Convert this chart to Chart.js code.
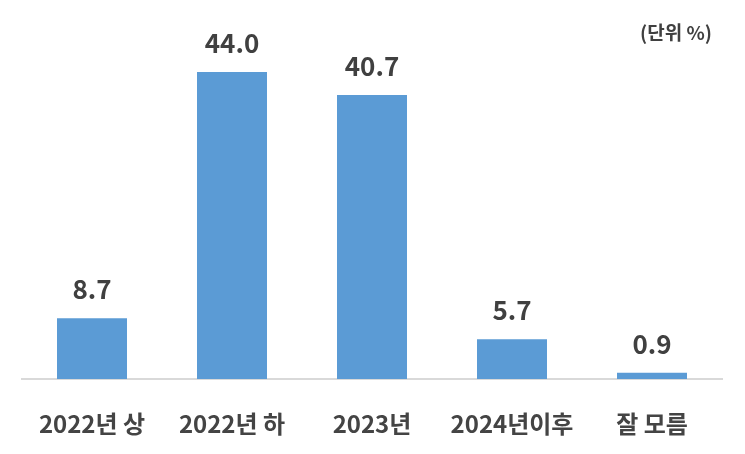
<!DOCTYPE html>
<html>
<head>
<meta charset="utf-8">
<script src="https://cdn.jsdelivr.net/npm/chart.js@4/dist/chart.umd.min.js"></script>
<style>
    body { margin: 0; background: #fff; }
    #wrap { width: 745px; height: 454px; position: relative; }
</style>
</head>
<body>
<div id="wrap"><canvas id="myBarChart" width="745" height="454"></canvas></div>
<script>
// 항목과 값
var categories = ['2022년 상', '2022년 하', '2023년', '2024년이후', '잘 모름'];
var values = [8.7, 44.0, 40.7, 5.7, 0.9];
var unitText = '(단위 %)';

var fontName = "'Noto Sans CJK KR', 'Noto Sans', sans-serif";

// 막대 위 값 표시 + 단위 표시
var valueLabelPlugin = {
    id: 'valueLabels',
    afterDatasetsDraw: function (chart) {
        var ctx = chart.ctx;
        var meta = chart.getDatasetMeta(0);
        ctx.save();
        ctx.fillStyle = '#404040';
        ctx.font = 'bold 26px ' + fontName;
        ctx.textAlign = 'center';
        ctx.textBaseline = 'middle';
        meta.data.forEach(function (bar, i) {
            ctx.fillText(values[i].toFixed(1), bar.x, bar.y - 29);
        });
        // 단위
        ctx.font = 'bold 19px ' + fontName;
        ctx.textAlign = 'right';
        ctx.fillText(unitText, 712, 33);
        ctx.restore();
    }
};

new Chart(document.getElementById('myBarChart').getContext('2d'), {
    type: 'bar',
    data: {
        labels: categories,
        datasets: [{
            data: values,
            backgroundColor: '#5B9BD5',
            borderWidth: 0,
            categoryPercentage: 1.0,
            barPercentage: 0.5
        }]
    },
    options: {
        responsive: false,
        animation: false,
        layout: { padding: { top: 30, left: 22, right: 23, bottom: 0 } },
        plugins: {
            legend: { display: false },
            tooltip: { enabled: false }
        },
        scales: {
            y: {
                display: false,
                min: 0,
                max: 50
            },
            x: {
                // 축 높이 고정 (막대 바닥선 위치 맞춤)
                afterFit: function (scale) { scale.height = 75; },
                grid: { display: false, drawTicks: false },
                border: { display: true, color: '#D9D9D9', width: 2 },
                ticks: {
                    color: '#444444',
                    padding: 30,
                    minRotation: 0,
                    maxRotation: 0,
                    autoSkip: false,
                    font: { family: fontName, size: 24, weight: 'bold', lineHeight: 1.2 }
                }
            }
        }
    },
    plugins: [valueLabelPlugin]
});
</script>
</body>
</html>
